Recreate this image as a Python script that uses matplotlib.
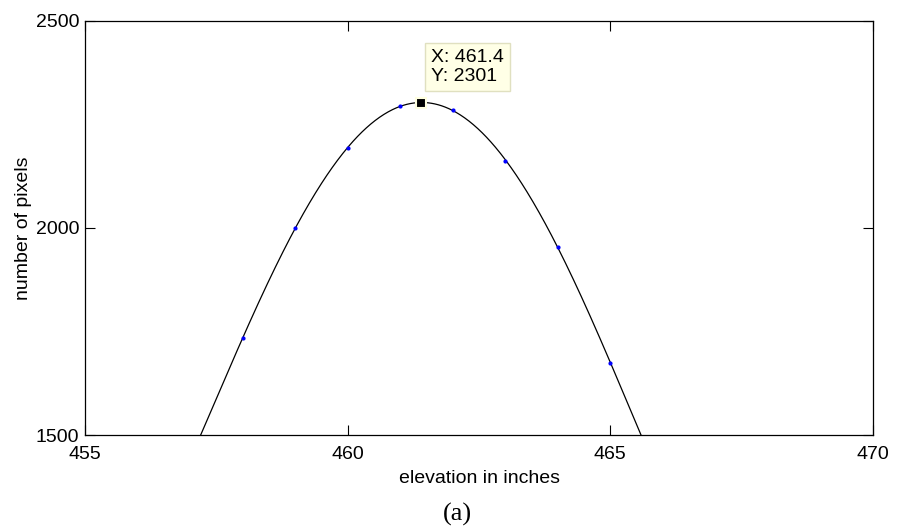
import numpy as np
import matplotlib
matplotlib.use("Agg")
import matplotlib.pyplot as plt

elev = [458, 459, 460, 461, 462, 463, 464, 465]
pixels = [1734, 1999, 2194, 2294, 2285, 2163, 1954, 1675]
peak_x, peak_y = 461.4, 2301
xticks = [455, 460, 465, 470]
yticks = [1500, 2000, 2500]

plt.rcParams['font.family'] = ['Liberation Sans', 'DejaVu Sans']

fig = plt.figure(figsize=(8.97, 5.29), dpi=100)
ax = fig.add_axes([85/897, 1-435/529, (873-85)/897, (435-21)/529])

coef = np.polyfit(elev, pixels, 4)
xs = np.linspace(456.5, 466.5, 600)
ax.plot(xs, np.polyval(coef, xs), color='black', lw=0.9)
ax.plot(elev, pixels, '.', color='blue', ms=4)
ax.plot([peak_x], [peak_y], 's', color='black', ms=7,
        markeredgecolor='#ffffe0', mew=1.5, zorder=5)

ax.annotate(f"X: {peak_x}\nY: {peak_y}", xy=(peak_x, peak_y),
            xytext=(431, 529-67), textcoords='figure pixels', ha='left', va='center',
            fontsize=14, linespacing=1.2,
            bbox=dict(boxstyle='square,pad=0.3', fc='#ffffe6', ec='#e0e0c0', lw=1))

ax.set_xlim(455, 470)
ax.set_ylim(1500, 2500)
ax.set_xticks(xticks)
ax.set_yticks(yticks)
ax.tick_params(direction='in', length=7, top=True, right=True, labelsize=14)
ax.tick_params(axis='x', pad=8)
ax.tick_params(axis='y', pad=4)
for s in ax.spines.values():
    s.set_linewidth(0.9)
ax.set_xlabel('elevation in inches', fontsize=14, labelpad=5)
ax.set_ylabel('number of pixels', fontsize=14, labelpad=3)

fig.text(457/897, 1-514/529, '(a)', ha='center', va='center', fontsize=19,
         family=['Liberation Serif', 'DejaVu Serif'])

fig.savefig('out.png', dpi=100)
